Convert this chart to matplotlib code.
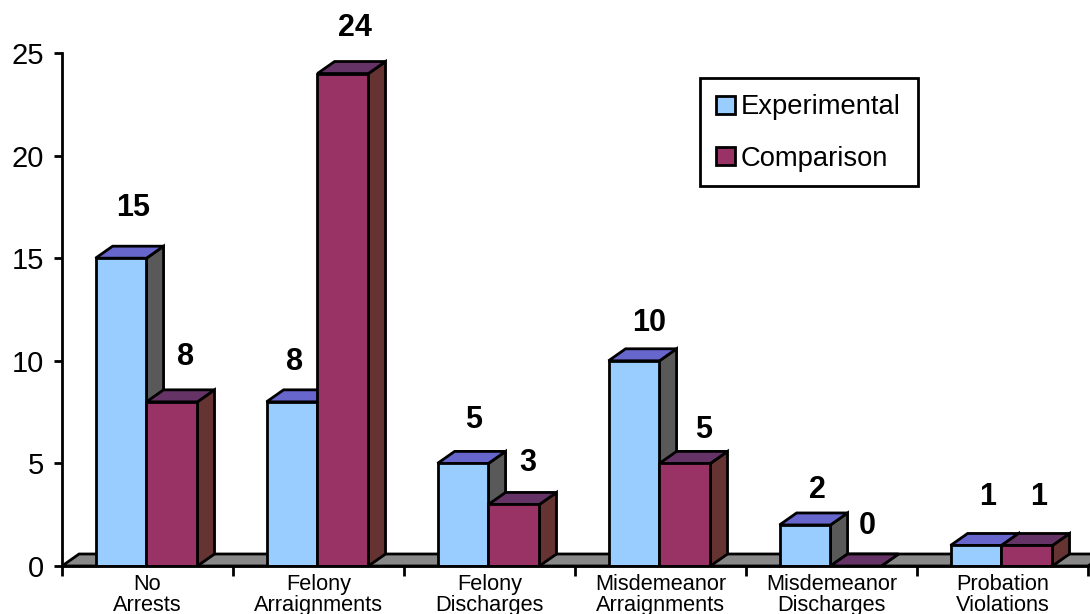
"""Experimental vs comparison outcome counts, pseudo-3D clustered columns."""
import matplotlib
matplotlib.use('Agg')
import matplotlib.pyplot as plt
from matplotlib.patches import Polygon, Patch, Rectangle

plt.rcParams['font.family'] = ['Liberation Sans', 'DejaVu Sans']

CATEGORIES = ['No\nArrests', 'Felony\nArraignments', 'Felony\nDischarges',
              'Misdemeanor\nArraignments', 'Misdemeanor\nDischarges', 'Probation\nViolations']
EXPERIMENTAL = [15, 8, 5, 10, 2, 1]
COMPARISON = [8, 24, 3, 5, 0, 1]
YTICKS = [0, 5, 10, 15, 20, 25]

# (face, top, side) for each series
EXP_COLS = ('#99ccff', '#6666cc', '#595959')
COMP_COLS = ('#993366', '#663366', '#663333')
FLOOR = '#888888'
W, H = 1090, 614
BAR_W = 0.298             # one column, in category units
SHIFT = 0.006             # clusters sit a touch left of the category centre
DX, DY = 0.1, 0.585       # 3D depth offset in data units
LW = 2.0
# label offset from the front top centre of each column, pixels (dx, dy)
EXP_OFF = [(12, 50), (3, 40), (11, 43), (15, 38), (12, 35), (12, 48)]
COMP_OFF = [(14, 45), (12, 46), (14, 41), (19, 33), (11, 40), (12, 48)]


def draw_column(ax, x, val, cols):
    x1 = x + BAR_W
    ax.add_patch(Polygon([(x1, 0), (x1 + DX, DY), (x1 + DX, val + DY), (x1, val)],
                         fc=cols[2], ec='k', lw=LW, joinstyle='miter', zorder=3))
    ax.add_patch(Polygon([(x, val), (x + DX, val + DY), (x1 + DX, val + DY), (x1, val)],
                         fc=cols[1], ec='k', lw=LW, joinstyle='miter', zorder=3))
    ax.bar(x, val, BAR_W, align='edge', color=cols[0], ec='k', lw=LW, zorder=3)


def main():
    fig = plt.figure(figsize=(W / 100, H / 100), dpi=100)
    ax = fig.add_axes([62 / W, (H - 566) / H, 1026 / W, 513 / H])
    ax.set_xlim(0, 6); ax.set_ylim(0, 25)
    for s in ('top', 'right'):
        ax.spines[s].set_visible(False)
    for s in ('left', 'bottom'):
        ax.spines[s].set_linewidth(LW)
        ax.spines[s].set_zorder(5)

    # floor of the 3D box
    ax.add_patch(Polygon([(0, 0), (DX, DY), (6.1, DY), (6, 0)], fc=FLOOR, ec='k', lw=LW,
                         clip_on=False, zorder=1))

    for i in range(len(CATEGORIES)):
        left = i + 0.5 - BAR_W - SHIFT
        draw_column(ax, left, EXPERIMENTAL[i], EXP_COLS)
        draw_column(ax, left + BAR_W, COMPARISON[i], COMP_COLS)
        for x, v, off in ((left, EXPERIMENTAL[i], EXP_OFF[i]), (left + BAR_W, COMPARISON[i], COMP_OFF[i])):
            ax.annotate(str(v), (x + BAR_W / 2, v), xytext=(off[0] * 0.72, off[1] * 0.72),
                        textcoords='offset points', ha='center', va='center',
                        fontsize=22, fontweight='bold', annotation_clip=False, zorder=6)

    ax.set_yticks(YTICKS)
    ax.tick_params(axis='y', length=6, width=LW, labelsize=21, pad=7)
    ax.set_xticks(range(7))
    ax.tick_params(axis='x', length=7, width=LW, labelbottom=False)
    for i, c in enumerate(CATEGORIES):
        ax.annotate(c, (i + 0.5, 0), xytext=(0, -5.5), textcoords='offset points', ha='center',
                    va='top', fontsize=15.7, linespacing=1.05, annotation_clip=False)

    # legend box drawn separately so its size can be set exactly
    ax.add_patch(Rectangle(((700 - 62) / 1026, (566 - 186) / 513), 218 / 1026, 108 / 513,
                           transform=ax.transAxes, fc='white', ec='k', lw=LW, zorder=7))
    handles = [Patch(fc=EXP_COLS[0], ec='k', lw=LW), Patch(fc=COMP_COLS[0], ec='k', lw=LW)]
    leg = ax.legend(handles, ['Experimental', 'Comparison'], loc='upper left',
                    bbox_to_anchor=((700 - 62) / 1026, (566 - 78) / 513), fontsize=19.7,
                    frameon=False, borderaxespad=0,
                    handlelength=0.68, handleheight=0.65, handletextpad=0.2,
                    labelspacing=0.93, borderpad=0.6)
    leg.set_zorder(8)

    fig.savefig('out.png', dpi=100, facecolor='white')


if __name__ == '__main__':
    main()
